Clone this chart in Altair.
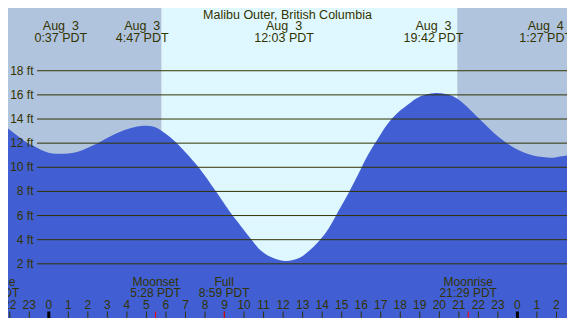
import altair as alt
import pandas as pd

W, H = 559, 310

# tide curve (hours since Aug 3 00:00, feet)
tide_hours = [-2.09, -1.10, -0.60, -0.10, 0.50, 1.39, 2.39, 2.89, 3.88, 4.73, 5.38, 5.88,
              6.52, 7.02, 7.72, 8.52, 9.36, 9.86, 10.36, 10.86, 11.35, 12.10, 12.85, 13.35,
              13.84, 14.34, 14.84, 15.34, 15.84, 16.33, 16.83, 17.33, 17.83, 18.33, 18.82,
              19.32, 19.82, 20.32, 20.82, 21.31, 21.81, 22.31, 22.81, 23.31, 23.80, 24.30,
              24.80, 25.30, 25.80, 26.29, 26.54]
tide_feet = [13.21, 12.03, 11.62, 11.25, 11.12, 11.25, 11.91, 12.35, 13.09, 13.43, 13.35, 12.90,
             12.05, 11.20, 9.90, 8.09, 6.12, 5.07, 4.03, 3.10, 2.58, 2.24, 2.50, 3.10,
             3.89, 4.94, 6.39, 7.83, 9.41, 10.98, 12.30, 13.55, 14.45, 15.11, 15.71,
             16.03, 16.16, 16.07, 15.79, 15.19, 14.40, 13.61, 12.82, 12.17, 11.64, 11.25,
             10.98, 10.85, 10.80, 10.91, 10.98]

# day / night bands
band_start = [-3.0, 5.78, 20.92]
band_end = [5.78, 20.92, 28.0]
band_fill = ["#B0C4DE", "#DFF8FF", "#B0C4DE"]

# high / low tide labels
event_hours = [0.617, 4.783, 12.05, 19.70, 25.45]
event_dates = ["Aug \u00a03", "Aug \u00a03", "Aug \u00a03", "Aug \u00a03", "Aug \u00a04"]
event_times = ["0:37 PDT", "4:47 PDT", "12:03 PDT", "19:42 PDT", "1:27 PDT"]

# moon events
moon_hours = [-2.98, 5.467, 8.983, 21.483]
moon_names = ["Moonrise", "Moonset", "Full", "Moonrise"]
moon_times = ["21:01 PDT", "5:28 PDT", "8:59 PDT", "21:29 PDT"]

grid_feet = [2, 4, 6, 8, 10, 12, 14, 16, 18]
grid_labels = [f"{v} ft" for v in grid_feet]

hour_ticks = list(range(-2, 27))
hour_labels = [str(h % 24) for h in hour_ticks]

title_text = "Malibu Outer, British Columbia"

FONT = "Liberation Sans"
TXT = "#333300"
Y_MIN, Y_MAX = -2.49, 23.20

xs = alt.Scale(domain=[-2.09, 26.54], nice=False, zero=False)
ys = alt.Scale(domain=[Y_MIN, Y_MAX], nice=False, zero=False)

bands = pd.DataFrame({"s": band_start, "e": band_end, "fill": band_fill})
tide = pd.DataFrame({"h": tide_hours, "ft": tide_feet})
events = pd.DataFrame({"h": event_hours, "d": event_dates, "t": event_times})
moon = pd.DataFrame({"h": moon_hours, "n": moon_names, "t": moon_times})
grid = pd.DataFrame({"ft": grid_feet, "lab": grid_labels})
hours = pd.DataFrame({"h": hour_ticks, "lab": hour_labels,
                      "mid": [h % 24 == 0 for h in hour_ticks]})

bg = alt.Chart(bands).mark_rect(clip=True).encode(
    x=alt.X("s:Q", scale=xs, axis=None), x2="e:Q",
    y=alt.value(0), y2=alt.value(H),
    color=alt.Color("fill:N", scale=None))

area = alt.Chart(tide).mark_area(clip=True, interpolate="catmull-rom", color="#415FD3").encode(
    x=alt.X("h:Q", scale=xs, axis=None),
    y=alt.Y("ft:Q", scale=ys, axis=None),
    y2=alt.datum(Y_MIN))

gridlines = alt.Chart(grid).mark_rule(color=TXT, strokeWidth=1).encode(
    y=alt.Y("ft:Q", scale=ys, axis=None),
    x=alt.value(29), x2=alt.value(W))

glabels = alt.Chart(grid).mark_text(align="right", baseline="middle", font=FONT,
                                    fontSize=12, color=TXT).encode(
    y=alt.Y("ft:Q", scale=ys, axis=None), x=alt.value(25.5), text="lab:N")

title = alt.Chart(pd.DataFrame({"t": [title_text]})).mark_text(
    align="center", baseline="middle", font=FONT, fontSize=12.5, color=TXT).encode(
    x=alt.value(W / 2), y=alt.value(6.5), text="t:N")

ev_d = alt.Chart(events).mark_text(align="center", baseline="middle", font=FONT,
                                   fontSize=12.5, color=TXT).encode(
    x=alt.X("h:Q", scale=xs, axis=None), y=alt.value(18), text="d:N")
ev_t = alt.Chart(events).mark_text(align="center", baseline="middle", font=FONT,
                                   fontSize=12.5, color=TXT).encode(
    x=alt.X("h:Q", scale=xs, axis=None), y=alt.value(29.5), text="t:N")

mn_n = alt.Chart(moon).mark_text(align="center", baseline="middle", font=FONT,
                                 fontSize=12, color=TXT).encode(
    x=alt.X("h:Q", scale=xs, axis=None), y=alt.value(273.5), text="n:N")
mn_t = alt.Chart(moon).mark_text(align="center", baseline="middle", font=FONT,
                                 fontSize=12, color=TXT).encode(
    x=alt.X("h:Q", scale=xs, axis=None), y=alt.value(285), text="t:N")

hlabels = alt.Chart(hours).mark_text(align="center", baseline="middle", font=FONT,
                                     fontSize=12, color=TXT).encode(
    x=alt.X("h:Q", scale=xs, axis=None), y=alt.value(296.5), text="lab:N")

ticks = alt.Chart(hours).transform_filter("!datum.mid").mark_rule(
    color=TXT, strokeWidth=1, clip=True).encode(
    x=alt.X("h:Q", scale=xs, axis=None), y=alt.value(303.5), y2=alt.value(H))
mticks = alt.Chart(hours).transform_filter("datum.mid").mark_rule(
    color="#000000", strokeWidth=3, clip=True).encode(
    x=alt.X("h:Q", scale=xs, axis=None), y=alt.value(303.5), y2=alt.value(H))
rticks = alt.Chart(moon).mark_rule(color="#FF0000", strokeWidth=1, clip=True).encode(
    x=alt.X("h:Q", scale=xs, axis=None), y=alt.value(303.5), y2=alt.value(H))

chart = alt.layer(bg, area, gridlines, glabels, title, ev_d, ev_t, mn_n, mn_t,
                  hlabels, ticks, mticks, rticks).properties(
    width=W, height=H, padding=0,
    autosize=alt.AutoSizeParams(type="none"),
    background="#FFFFFF",
).configure_view(stroke=None)

chart.save("out.html", embed_options={"renderer": "svg", "actions": False})
